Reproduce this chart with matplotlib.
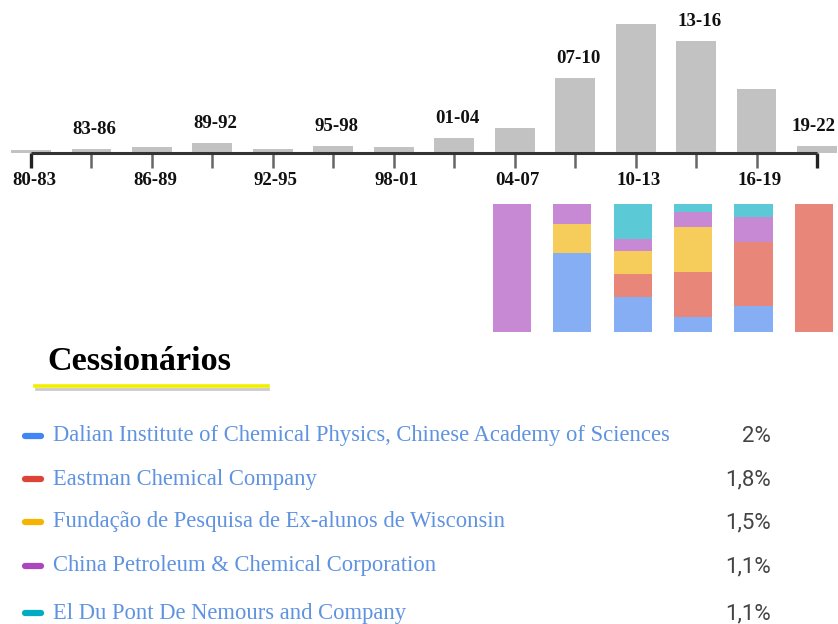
import matplotlib
matplotlib.use("Agg")
import matplotlib.pyplot as plt

# period labels and counts (top histogram)
periods = ["80-83", "83-86", "86-89", "89-92", "92-95", "95-98", "98-01",
           "01-04", "04-07", "07-10", "10-13", "13-16", "16-19", "19-22"]
counts = [2, 3, 4, 7, 3, 5, 4, 10, 17, 50, 86, 75, 43, 5]

# share of top assignees per period (stacked, bottom -> top)
stack_periods = ["04-07", "07-10", "10-13", "13-16", "16-19", "19-22"]
dalian = [0, 8, 3, 2, 2, 0]
eastman = [0, 0, 2, 6, 5, 1]
wisconsin = [0, 3, 2, 6, 0, 0]
sinopec = [3, 2, 1, 2, 2, 0]
dupont = [0, 0, 3, 1, 1, 0]

assignees = ["Dalian Institute of Chemical Physics, Chinese Academy of Sciences",
             "Eastman Chemical Company",
             "Fundação de Pesquisa de Ex-alunos de Wisconsin",
             "China Petroleum & Chemical Corporation",
             "El Du Pont De Nemours and Company"]
shares = ["2%", "1,8%", "1,5%", "1,1%", "1,1%"]

dot_colors = ["#4285f4", "#db4437", "#f4b400", "#ab47bc", "#00acc1"]
seg_colors = ["#86aef5", "#e8867a", "#f6cc5a", "#c889d4", "#5cc9d7"]

W, H = 838, 624
fig = plt.figure(figsize=(W / 100, H / 100), dpi=100)

# pixel helpers
x0_px, step_px = 31, 60.46
xlim = (-x0_px / step_px, (W - x0_px) / step_px)
px_per_unit = 1.5
axis_y = 153

# --- top histogram
ax = fig.add_axes([0, (H - 200) / H, 1, 200 / H])
ax.set_xlim(*xlim)
ax.set_ylim(-(200 - axis_y) / px_per_unit, axis_y / px_per_unit)
ax.axis("off")
xs = list(range(len(periods)))
ax.bar(xs, counts, width=0.66, color="#c2c2c2", zorder=1)
ax.plot([0, len(periods) - 1], [0, 0], color="#333333", lw=2.2,
        solid_capstyle="butt", zorder=3)
for i in xs:
    end = i in (0, len(periods) - 1)
    ax.plot([i, i], [0, -10], color="#222222" if end else "#666666",
            lw=2.4 if end else 1.8, solid_capstyle="butt", zorder=2)
lab_font = dict(family="Liberation Serif", fontweight="bold", fontsize=13.6,
                color="#111111")
last = len(periods) - 1
for i, (p, c) in enumerate(zip(periods, counts)):
    xo = i - 0.05 if i == last else i + 0.05
    if i % 2 == 0:
        ax.text(xo, -18.5, p, ha="center", va="center", **lab_font)
    else:
        ax.annotate(p, (xo, c), xytext=(0, 14),
                    textcoords="offset points", ha="center", va="center",
                    **lab_font)

# --- stacked assignee bars
ax2 = fig.add_axes([0, (H - 332) / H, 1, 128 / H])
ax2.set_xlim(*xlim)
ax2.set_ylim(0, 1)
ax2.axis("off")
sx = [periods.index(p) - 0.05 for p in stack_periods]
series = [dalian, eastman, wisconsin, sinopec, dupont]
totals = [sum(v) for v in zip(*series)]
bottom = [0.0] * len(sx)
for vals, col in zip(series, seg_colors):
    frac = [v / t for v, t in zip(vals, totals)]
    ax2.bar(sx, frac, bottom=bottom, width=0.63, color=col,
            edgecolor="none")
    bottom = [b + f for b, f in zip(bottom, frac)]

# --- legend block (pixel coordinates)
ov = fig.add_axes([0, 0, 1, 1], zorder=5)
ov.set_xlim(0, W)
ov.set_ylim(H, 0)
ov.axis("off")
ov.patch.set_alpha(0)
ov.text(47, 361, "Cessionários", family="Liberation Serif",
        fontweight="bold", fontsize=24.6, color="black", va="center")
ov.plot([36, 268], [388.5, 388.5], color="#bdbdbd", lw=2, alpha=0.8)
ov.plot([35, 268], [386, 386], color="#f2ee00", lw=2.6)

row_y = [436, 479, 522, 566, 613]
for y, name, pct, col in zip(row_y, assignees, shares, dot_colors):
    ov.plot([25, 41], [y, y], color=col, lw=4.5, solid_capstyle="round")
    ov.text(53, y, name, family="Liberation Serif", fontsize=16.3,
            color="#5f93e0", va="center")
    ov.text(771, y + 1, pct, family="Roboto", fontsize=16,
            color="#444444", va="center", ha="right")

fig.savefig("out.png", dpi=100, facecolor="white")
